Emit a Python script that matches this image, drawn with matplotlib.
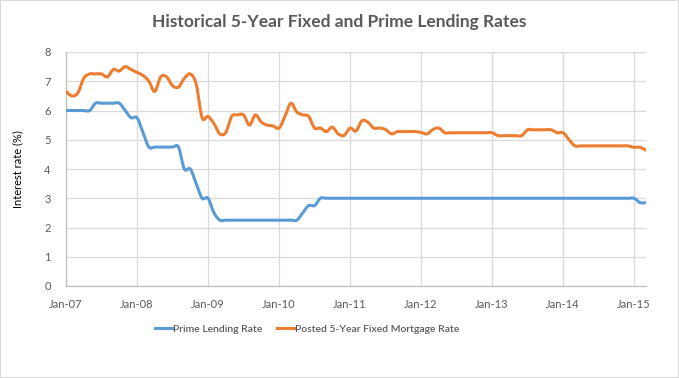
import numpy as np
import matplotlib
matplotlib.use("Agg")
import matplotlib.pyplot as plt
from matplotlib.path import Path
from matplotlib.patches import PathPatch, Rectangle
from matplotlib.lines import Line2D

# Monthly data, Jan-07 .. Mar-15
prime = [6.0, 6.0, 6.0, 6.0, 6.0, 6.25, 6.25, 6.25, 6.25, 6.25, 6.0, 5.75, 5.75,
         5.25, 4.75, 4.75, 4.75, 4.75, 4.75, 4.75, 4.0, 4.0, 3.5, 3.0, 3.0, 2.5, 2.25,
         2.25, 2.25, 2.25, 2.25, 2.25, 2.25, 2.25, 2.25, 2.25, 2.25, 2.25, 2.25, 2.25,
         2.5, 2.75, 2.75] + [3.0] * 54 + [2.85, 2.85]
fixed5 = [6.65, 6.5, 6.6, 7.1, 7.25, 7.25, 7.25, 7.15, 7.4, 7.35, 7.5, 7.4, 7.3,
          7.2, 7.0, 6.65, 7.15, 7.15, 6.85, 6.8, 7.1, 7.25, 6.9, 5.75, 5.8, 5.55, 5.2,
          5.25, 5.8, 5.85, 5.85, 5.5, 5.85, 5.6, 5.5, 5.47, 5.4, 5.8, 6.25, 5.95, 5.85,
          5.8, 5.4, 5.4, 5.28, 5.43, 5.2, 5.15, 5.4, 5.3, 5.65, 5.6, 5.4, 5.4, 5.35,
          5.2, 5.28, 5.28, 5.28, 5.28, 5.25, 5.2, 5.35, 5.4, 5.24, 5.24, 5.24, 5.24,
          5.24, 5.24, 5.24, 5.24, 5.24, 5.14, 5.14, 5.14, 5.14, 5.14, 5.34, 5.34, 5.34,
          5.34, 5.34, 5.24, 5.24, 5.0, 4.79, 4.79, 4.79, 4.79, 4.79, 4.79, 4.79, 4.79,
          4.79, 4.79, 4.74, 4.74, 4.64]
tick_labels = ["Jan-07", "Jan-08", "Jan-09", "Jan-10", "Jan-11", "Jan-12",
               "Jan-13", "Jan-14", "Jan-15"]
series_names = ["Prime Lending Rate", "Posted 5-Year Fixed Mortgage Rate"]
colors = ["#5B9BD5", "#ED7D31"]

FONT = "Lato"
GRAY = "#595959"

fig = plt.figure(figsize=(6.79, 3.78), dpi=100)
ax = fig.add_axes([66 / 679, 1 - 286 / 378, (646 - 66) / 679, (286 - 52) / 378])


def smooth_path(y):
    """Excel-style smoothed line: cubic Bezier through each data point."""
    y = np.asarray(y, float)
    x = np.arange(len(y), dtype=float)
    pts = np.column_stack([x, y])
    ext = np.vstack([pts[0], pts, pts[-1]])
    verts = [pts[0]]
    codes = [Path.MOVETO]
    for i in range(len(pts) - 1):
        p0, p1, p2, p3 = ext[i], ext[i + 1], ext[i + 2], ext[i + 3]
        c1 = p1 + (p2 - p0) / 6.0
        c2 = p2 - (p3 - p1) / 6.0
        verts += [c1, c2, p2]
        codes += [Path.CURVE4] * 3
    return Path(np.array(verts), codes)


for data, c in zip([prime, fixed5], colors):
    patch = PathPatch(smooth_path(data), facecolor="none", edgecolor=c,
                      lw=2.2, capstyle="round", joinstyle="round", zorder=3)
    ax.add_patch(patch)

n = len(prime)
ax.set_xlim(0, n - 1)
ax.set_ylim(0, 8)
ax.set_xticks(np.arange(0, n, 12))
ax.set_xticklabels(tick_labels)
ax.set_yticks(np.arange(0, 9, 1))
ax.grid(True, color="#D9D9D9", lw=0.9, zorder=0)
for s in ["top", "right"]:
    ax.spines[s].set_visible(False)
for s in ["left", "bottom"]:
    ax.spines[s].set_color("#BFBFBF")
    ax.spines[s].set_linewidth(0.9)
ax.tick_params(length=0, colors=GRAY, labelsize=8)
ax.tick_params(axis="x", pad=9)
ax.tick_params(axis="y", pad=11)
for lab in ax.get_xticklabels() + ax.get_yticklabels():
    lab.set_fontfamily(FONT)

ax.set_ylabel("Interest rate (%)", fontsize=8, family=FONT, color="black",
              labelpad=15)

fig.text(0.5, 1 - 22 / 378, "Historical 5-Year Fixed and Prime Lending Rates",
         ha="center", va="center", fontsize=12.5, fontweight="bold",
         color=GRAY, family=FONT)

handles = [Line2D([], [], color=c, lw=2.2) for c in colors]
leg = fig.legend(handles, series_names, loc="center left", ncol=2,
                 bbox_to_anchor=(155 / 679, 1 - 329 / 378), frameon=False,
                 prop={"family": FONT, "size": 7.5, "weight": "semibold"},
                 handlelength=1.6, handletextpad=0.15, columnspacing=1.4,
                 borderpad=0, borderaxespad=0)
for t in leg.get_texts():
    t.set_color(GRAY)

fig.patches.append(Rectangle((0, 0), 1, 1, transform=fig.transFigure,
                             fill=False, edgecolor="#D9D9D9", lw=1.5))

fig.savefig("out.png", dpi=100)
